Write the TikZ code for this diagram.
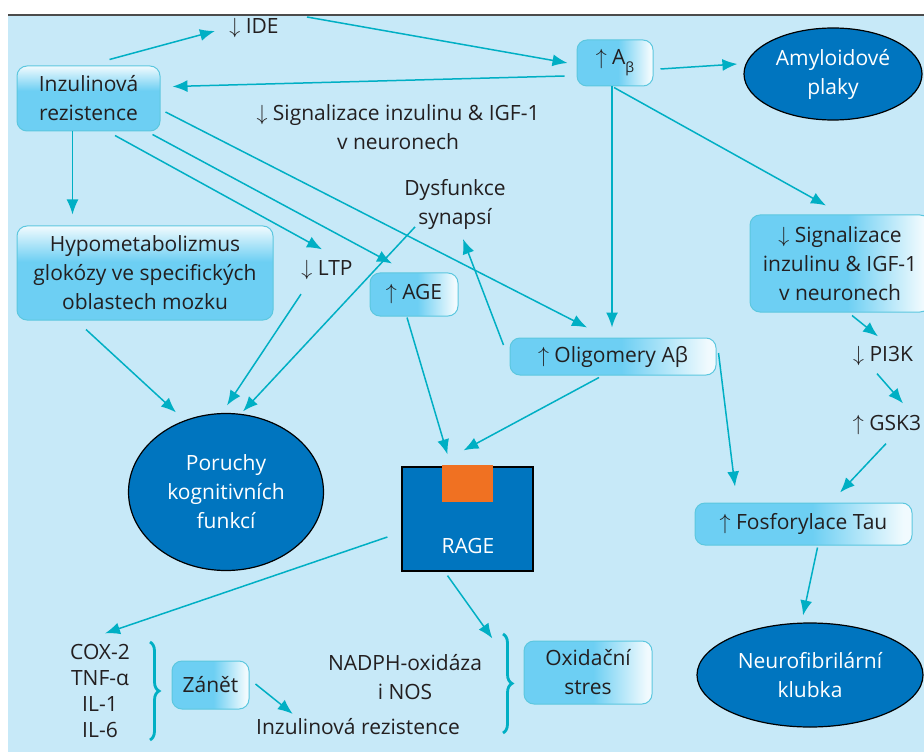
\documentclass[tikz,border=0pt]{standalone}
\usepackage{fontspec}
\setmainfont{Open Sans}
\usetikzlibrary{positioning, arrows.meta, shapes.geometric, decorations.pathreplacing}

\definecolor{bgblue}{RGB}{199,233,248}
\definecolor{boxcyan}{RGB}{109,207,243}
\definecolor{boxline}{RGB}{92,199,223}
\definecolor{arrowc}{RGB}{0,175,196}
\definecolor{deepblue}{RGB}{0,117,191}
\definecolor{rageorange}{RGB}{240,113,34}
\definecolor{txt}{RGB}{35,31,32}
\colorlet{boxpale}{white!90!boxcyan}

\pgfdeclarehorizontalshading{fadeh}{100bp}{color(0bp)=(boxcyan); color(52bp)=(boxcyan); color(73bp)=(boxpale); color(100bp)=(white)}
\pgfdeclareverticalshading{fadev}{100bp}{color(0bp)=(boxcyan); color(56bp)=(boxcyan); color(75bp)=(boxpale); color(100bp)=(white)}

\tikzset{
  arr/.style={-{Latex[length=7.5pt,width=6pt]}, draw=arrowc, line width=0.75pt},
  hbox/.style={rounded corners=5pt, draw=boxline, line width=0.5pt, shade, shading=fadeh, align=center},
  vbox/.style={hbox, shading=fadev},
  lbl/.style={align=center, inner sep=2pt},
  blob/.style={ellipse, draw=black, line width=0.6pt, fill=deepblue, text=white, align=center, inner sep=0pt},
  cbrace/.style={decorate, decoration={brace, amplitude=4.5pt}, draw=arrowc, line width=1.4pt}
}

\begin{document}
\begin{tikzpicture}[x=0.5pt, y=-0.5pt, every node/.style={font=\fontsize{10.5}{14.5}\selectfont, text=txt}]
  \clip (0,0) rectangle (924,753);
  \fill[bgblue] (8,15) rectangle (924,752);
  \draw[black!70, line width=0.8pt] (8,15) -- (924,15);

  % upper row
  \node[vbox, minimum width=71.5pt, minimum height=32.5pt] (ins) at (88.5,98.5) {Inzulinová\\rezistence};
  \node[lbl] (ide) at (254,28) {$\downarrow$ IDE};
  \node[hbox, minimum width=38pt, minimum height=23pt] (ab) at (615,63) {$\uparrow$ A\raisebox{-0.7ex}{\fontsize{7}{8}\selectfont β}};
  \node[blob, minimum width=89pt, minimum height=46pt] (amy) at (833,74) {Amyloidové\\plaky};
  \node[lbl] (sigtxt) at (398,127) {$\downarrow$ Signalizace inzulinu \& IGF-1\\v neuronech};
  \node[lbl] (dys) at (455,204) {Dysfunkce\\synapsí};

  % middle
  \node[vbox, minimum width=128pt, minimum height=47pt] (hypo) at (145,273) {Hypometabolizmus\\glokózy ve specifických\\oblastech mozku};
  \node[lbl] (ltp) at (327,270) {$\downarrow$ LTP};
  \node[hbox, minimum width=44pt, minimum height=21.5pt] (age) at (414,294.5) {$\uparrow$ AGE};
  \node[hbox, minimum width=90pt, minimum height=48.5pt] (sig) at (840,263.5) {$\downarrow$ Signalizace\\inzulinu \& IGF-1\\v neuronech};
  \node[hbox, minimum width=103pt, minimum height=18.5pt] (olig) at (613,356.5) {$\uparrow$ Oligomery Aβ};
  \node[lbl] (pi3k) at (883,356) {$\downarrow$ PI3K};
  \node[lbl] (gsk) at (887,425) {$\uparrow$ GSK3};
  \node[blob, minimum width=97.5pt, minimum height=78.5pt] (por) at (226,492) {Poruchy\\kognitivních\\funkcí};
  \node[draw=black, fill=deepblue, line width=0.6pt, minimum width=65.5pt, minimum height=52pt] (rage) at (467.5,519) {};
  \node[fill=rageorange, inner sep=0pt, minimum width=25.5pt, minimum height=18.5pt] (cap) at (467.5,483.5) {};
  \node[text=white] (ragelbl) at (468,546) {RAGE};
  \node[hbox, minimum width=108.5pt, minimum height=21pt] (fos) at (803.5,524) {$\uparrow$ Fosforylace Tau};

  % bottom
  \node[blob, minimum width=113pt, minimum height=52pt] (neu) at (810,675) {Neurofibrilární\\klubka};
  \node[lbl, font=\fontsize{10.5}{13}\selectfont] (cox) at (100,691) {COX-2\\TNF-α\\IL-1\\IL-6};
  \node[hbox, minimum width=38.5pt, minimum height=24pt] (zan) at (210.5,685) {Zánět};
  \node[lbl] (irtxt) at (358,727) {Inzulinová rezistence};
  \node[lbl] (nadph) at (405,677) {NADPH-oxidáza\\i NOS};
  \node[hbox, minimum width=64pt, minimum height=31.5pt] (oxi) at (588,672.5) {Oxidační\\stres};

  \draw[cbrace] (150,642) -- (150,740);
  \draw[cbrace] (503,634) -- (503,733);

  % arrows
  \draw[arr] ([shift={(21,-6)}]ins.north) -- ([shift={(-10,3)}]ide.west);
  \draw[arr] ([shift={(24,-11)}]ide.east) -- ([shift={(-9,0)}]ab.west);
  \draw[arr] ([shift={(-12,13)}]ab.west) -- ([shift={(12,-12)}]ins.east);
  \draw[arr] ([shift={(7,6)}]ab.east) -- ([shift={(-6,-10)}]amy.west);
  \draw[arr] ([shift={(-3,0)}]ab.south) -- ([shift={(-1,-10)}]olig.north);
  \draw[arr] ([shift={(-1,1)}]ab.south) -- ([shift={(-14,-9)}]sig.north);
  \draw[arr] ([xshift=-8pt]ins.south) -- ([shift={(-72.5,-11)}]hypo.north);
  \draw[arr] ([shift={(26.5,4)}]ins.south) -- ([shift={(-5,-6.5)}]ltp.north);
  \draw[arr] ([shift={(-8,3)}]ins.south east) -- ([shift={(-22,-9)}]age.north);
  \draw[arr] ([shift={(5,13.5)}]ins.east) -- ([shift={(-26,-10)}]olig.north);
  \draw[arr] ([shift={(-40,-6.5)}]dys.south) -- ([shift={(17,-1.5)}]por.north);
  \draw[arr] ([shift={(-26,10)}]ltp.south) -- ([shift={(1,-7.5)}]por.north);
  \draw[arr] ([shift={(-59,9)}]hypo.south) -- ([shift={(-50,-0.5)}]por.north);
  \draw[arr] ([shift={(-6,-11.5)}]olig.west) -- ([shift={(8,5.5)}]dys.south);
  \draw[arr] ([shift={(-7,1)}]age.south) -- ([shift={(-20,-12)}]rage.north);
  \draw[arr] ([shift={(-14,2)}]olig.south) -- ([shift={(-4,-16)}]rage.north);
  \draw[arr] ([shift={(2,-3.5)}]olig.east) -- ([shift={(-68.5,-16)}]fos.north);
  \draw[arr] ([shift={(12,3)}]sig.south) -- ([shift={(-5,-5.5)}]pi3k.north);
  \draw[arr] ([shift={(-6,3.5)}]pi3k.south) -- ([shift={(16,-7.5)}]gsk.north);
  \draw[arr] ([shift={(-1,4.5)}]gsk.south) -- ([shift={(36.5,-10)}]fos.north);
  \draw[arr] ([shift={(14,2)}]fos.south) -- ([shift={(-7,-7)}]neu.north);
  \draw[arr] ([shift={(-14,18)}]rage.west) -- ([shift={(5,-6.5)}]cox.north);
  \draw[arr] ([shift={(-20,4)}]rage.south) -- ([shift={(6,-11.5)}]nadph.north east);
  \draw[arr] ([shift={(6,-1)}]zan.east) -- ([shift={(41,-0.5)}]irtxt.north west);
\end{tikzpicture}
\end{document}
